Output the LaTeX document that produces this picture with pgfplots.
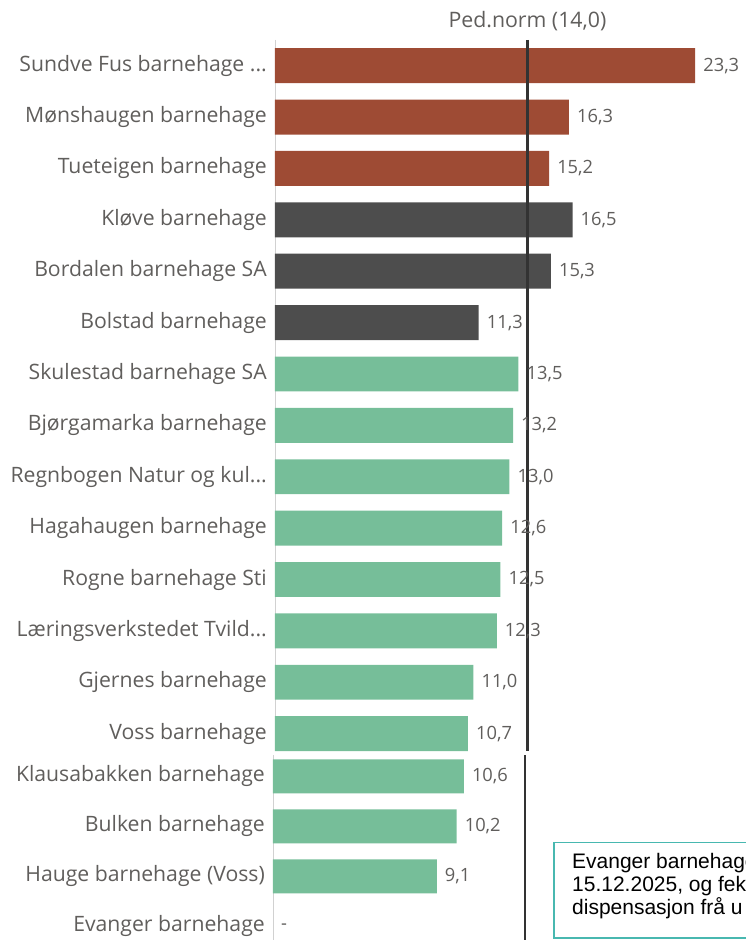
\documentclass[border=0pt]{standalone}
\usepackage{fontspec}
\setmainfont{Open Sans}
\newfontfamily\arialfont{Liberation Sans}
\usepackage{pgfplots}
\pgfplotsset{compat=1.18}

\definecolor{rust}{RGB}{158,75,52}
\definecolor{darkbar}{RGB}{77,77,77}
\definecolor{greenbar}{RGB}{118,190,153}
\definecolor{labelgray}{RGB}{96,94,92}
\definecolor{normline}{RGB}{51,51,51}
\definecolor{boxteal}{RGB}{72,184,176}
\newcommand\lbldots{...}

\pgfplotsset{
  panel/.style={
    scale only axis, y dir=reverse, clip=false,
    xmin=0, xmax=26,
    axis x line=none, axis y line*=left,
    y axis line style={draw=black!18, line width=0.8pt},
    major tick length=0pt, xtick=\empty,
    yticklabel style={font=\fontsize{21.2}{24}\selectfont, text=labelgray,
      inner sep=0pt, xshift=-8pt},
  },
  hbar/.style={
    xbar, bar width=0.68, bar shift=0pt, draw=none, fill=#1,
    nodes near coords,
    nodes near coords style={anchor=west, inner sep=0pt, xshift=8pt,
      font=\fontsize{18.3}{21}\selectfont, text=labelgray,
      /pgf/number format/.cd, fixed, fixed zerofill, precision=1,
      use comma, assume math mode=true},
  },
  normstyle/.style={normline, line width=2.5pt, no marks, sharp plot},
}

\begin{document}
\begin{tikzpicture}
\useasboundingbox (0,0) rectangle (746pt,940pt);
\clip (0,0) rectangle (746pt,940pt);

% upper panel
\begin{axis}[panel,
  at={(275pt,900pt)}, anchor=north west,
  width=468.8pt, height=711.1pt,
  ymin=-0.5, ymax=13.34,
  ytick={0,...,13},
  yticklabels={Sundve Fus barnehage \lbldots,Mønshaugen barnehage,Tueteigen barnehage,
    Kløve barnehage,Bordalen barnehage SA,Bolstad barnehage,Skulestad barnehage SA,
    Bjørgamarka barnehage,Regnbogen Natur og kul\lbldots,Hagahaugen barnehage,
    Rogne barnehage Sti,Læringsverkstedet Tvild\lbldots,Gjernes barnehage,Voss barnehage},
]
\addplot[hbar=rust] coordinates {(23.3,0) (16.3,1) (15.2,2)};
\addplot[hbar=darkbar] coordinates {(16.5,3) (15.3,4) (11.3,5)};
\addplot[hbar=greenbar] coordinates {(13.5,6) (13.2,7) (13.0,8) (12.6,9)
  (12.5,10) (12.3,11) (11.0,12) (10.7,13)};
\addplot[normstyle] coordinates {(14,-0.5) (14,13.34)};
\node[font=\fontsize{21.3}{24}\selectfont, text=labelgray]
  at (axis cs:14,-0.5) [yshift=19pt] {Ped.norm (14,0)};
\end{axis}

% lower panel
\begin{axis}[panel,
  at={(273pt,185pt)}, anchor=north west,
  width=468pt, height=185pt,
  ymin=-0.425, ymax=3.27,
  ytick={0,...,3},
  yticklabels={Klausabakken barnehage,Bulken barnehage,Hauge barnehage (Voss),
    Evanger barnehage},
]
\addplot[hbar=greenbar] coordinates {(10.6,0) (10.2,1) (9.1,2)};
\addplot[normstyle] coordinates {(14,-0.425) (14,3.27)};
\node[anchor=west, inner sep=0pt, xshift=8pt, font=\fontsize{18.3}{21}\selectfont,
  text=labelgray] at (axis cs:0,3) {-};
\end{axis}

% note box, cut off at the right edge as in the source picture
\draw[boxteal, line width=1.5pt, fill=white] (554pt,2pt) rectangle (780pt,97.3pt);
\begin{scope}[every node/.style={anchor=base west, inner sep=0pt,
    font=\arialfont\fontsize{21}{23}\selectfont}]
\node at (572pt,71pt) {Evanger barnehage};
\node at (572pt,48pt) {15.12.2025, og fekk};
\node at (572pt,25pt) {dispensasjon frå u};
\end{scope}
\end{tikzpicture}
\end{document}
